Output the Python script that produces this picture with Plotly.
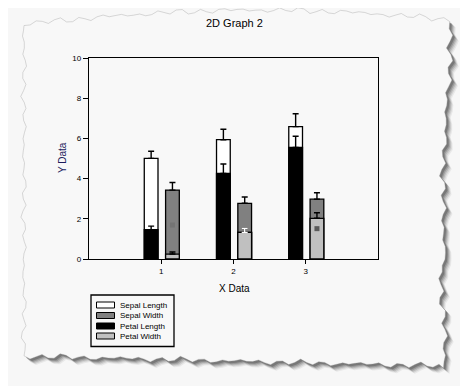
import math
import plotly.graph_objects as go

# ---- data ----
groups = [1, 2, 3]
series_names = ["Sepal Length", "Sepal Width", "Petal Length", "Petal Width"]
sepal_length = [5.006, 5.936, 6.588]
sepal_length_sd = [0.352, 0.516, 0.636]
sepal_width = [3.428, 2.770, 2.974]
sepal_width_sd = [0.379, 0.314, 0.322]
petal_length = [1.462, 4.260, 5.552]
petal_length_sd = [0.174, 0.470, 0.552]
petal_width = [0.246, 1.326, 2.026]
petal_width_sd = [0.105, 0.198, 0.275]
marker_x = [1, 3]
marker_y = [1.69, 1.51]
y_ticks = [0, 2, 4, 6, 8, 10]
x_ticks = [1, 2, 3]

# ---- layout geometry (screen pixels; page body adds an 8px offset) ----
OFS = 8
SW, SH = 468, 386
W, H = SW - OFS, SH - OFS
PLOT_L, PLOT_R, PLOT_T, PLOT_B = 89, 378, 58, 259
L, T = PLOT_L - OFS, PLOT_T - OFS
R, B = SW - PLOT_R, SH - PLOT_B
PW_, PH_ = PLOT_R - PLOT_L, PLOT_B - PLOT_T


def px(x):
    return (x - PLOT_L) / PW_


def py(y):
    return (PLOT_B - y) / PH_


BAR_W = 0.19
OFF_LEFT = -0.235
OFF_RIGHT = 0.06
FONT = "Arial, Liberation Sans, sans-serif"

fig = go.Figure()


def add_bar(name, xs, vals, sd, color, offset, err_color="black"):
    fig.add_trace(go.Bar(
        x=xs, y=vals, name=name, width=BAR_W, offset=offset,
        marker=dict(color=color, line=dict(color="black", width=1.3)),
        error_y=dict(type="data", array=sd, arrayminus=[0] * len(sd), symmetric=False,
                     color=err_color, thickness=1.4, width=3),
        showlegend=False,
    ))


add_bar(series_names[0], groups, sepal_length, sepal_length_sd, "white", OFF_LEFT)
add_bar(series_names[1], groups, sepal_width, sepal_width_sd, "#808080", OFF_RIGHT)
add_bar(series_names[2], groups, petal_length, petal_length_sd, "black", OFF_LEFT)
add_bar(series_names[3], groups, petal_width, petal_width_sd, "#c0c0c0", OFF_RIGHT)
# the middle Petal Width error bar is drawn in white in the original
add_bar(series_names[3], groups[1:2], petal_width[1:2], petal_width_sd[1:2], "#c0c0c0",
        OFF_RIGHT, err_color="white")

fig.add_trace(go.Scatter(
    x=[v + OFF_RIGHT + BAR_W / 2 for v in marker_x], y=marker_y, mode="markers",
    marker=dict(symbol="square", size=5, color=["#747474", "#5a5a5a"]),
    showlegend=False, hoverinfo="skip",
))

# ---- torn paper decoration ----
def jag(i, amp):
    return amp * (0.55 * math.sin(i * 1.9) + 0.3 * math.sin(i * 4.7 + 1.0) + 0.25 * math.sin(i * 0.63 + 2.0))


def edge_pts():
    pts = []
    n = 70
    for i in range(n + 1):
        t = i / n
        x = 24 + t * (450 - 24)
        base = 24 - 14 * math.sin(t * math.pi * 0.9)
        pts.append((x, base + jag(i, 3.2)))
    n = 55
    for i in range(1, n + 1):
        t = i / n
        y = 16 + t * (368 - 16)
        base = 451 - 8 * math.sin(t * math.pi) ** 2 - (6 if t > 0.7 else 0)
        pts.append((base + jag(i + 100, 3.8), y))
    n = 70
    for i in range(1, n + 1):
        t = i / n
        x = 445 - t * (445 - 24)
        base = 366 - 10 * t
        pts.append((x, base + jag(i + 200, 3.2)))
    n = 55
    for i in range(1, n):
        t = i / n
        y = 356 - t * (356 - 24)
        pts.append((24 + jag(i + 300, 3), y))
    return pts


def path_of(pts, dx=0, dy=0):
    s = ""
    for k, (x, y) in enumerate(pts):
        s += ("M" if k == 0 else "L") + f"{px(x + dx):.5f},{py(y + dy):.5f} "
    return s + "Z"


pts = edge_pts()
shapes = []
for (d, op) in [(6, 0.08), (5, 0.12), (4, 0.18), (3, 0.25), (2, 0.35)]:
    shapes.append(dict(type="path", xref="paper", yref="paper", layer="below",
                       path=path_of(pts, d, d), fillcolor=f"rgba(60,60,60,{op})",
                       line=dict(width=0)))
shapes.append(dict(type="path", xref="paper", yref="paper", layer="below",
                   path=path_of(pts), fillcolor="#f8f8f8",
                   line=dict(color="rgba(150,150,150,0.6)", width=0.6)))

# ---- manual legend ----
legend_colors = ["white", "#808080", "black", "#c0c0c0"]
legend_y = [305, 315.5, 326, 336]
annotations = []
shapes.append(dict(type="rect", xref="paper", yref="paper", x0=px(91), x1=px(174),
                   y0=py(295), y1=py(346.5), line=dict(color="black", width=1.3),
                   fillcolor="rgba(0,0,0,0)"))
for name, col, yc in zip(series_names, legend_colors, legend_y):
    shapes.append(dict(type="rect", xref="paper", yref="paper", x0=px(96.5), x1=px(114.5),
                       y0=py(yc - 3), y1=py(yc + 3), fillcolor=col,
                       line=dict(color="black", width=1)))
    annotations.append(dict(x=px(118), y=py(yc), xref="paper", yref="paper", text=name,
                            showarrow=False, xanchor="left", yanchor="middle",
                            font=dict(family=FONT, size=8, color="black")))

annotations.append(dict(x=px(234), y=py(23), xref="paper", yref="paper", text="2D Graph 2",
                        showarrow=False, xanchor="center", yanchor="middle",
                        font=dict(family=FONT, size=11, color="black")))
annotations.append(dict(x=px(234), y=py(288), xref="paper", yref="paper", text="X Data",
                        showarrow=False, xanchor="center", yanchor="middle",
                        font=dict(family=FONT, size=10, color="black")))
annotations.append(dict(x=px(62), y=py(158), xref="paper", yref="paper", text="Y Data",
                        showarrow=False, xanchor="center", yanchor="middle", textangle=-90,
                        font=dict(family=FONT, size=10, color="#1c1c5c")))

fig.update_layout(
    width=W, height=H,
    margin=dict(l=L, r=R, t=T, b=B, pad=0),
    paper_bgcolor="#f7f7f7", plot_bgcolor="rgba(0,0,0,0)",
    barmode="overlay", showlegend=False,
    shapes=shapes, annotations=annotations,
    font=dict(family=FONT, size=8, color="black"),
    xaxis=dict(range=[0, 4], tickvals=x_ticks, ticks="outside", ticklen=4, tickwidth=1.2,
               tickcolor="black", showline=True, linecolor="black", linewidth=1.3, mirror=True,
               showgrid=False, zeroline=False, tickfont=dict(size=8, family=FONT)),
    yaxis=dict(range=[0, 10], tickvals=y_ticks, ticks="outside", ticklen=5, tickwidth=1.2,
               tickcolor="black", showline=True, linecolor="black", linewidth=1.3, mirror=True,
               showgrid=False, zeroline=False, tickfont=dict(size=8, family=FONT)),
)

fig.write_html("out.html")
